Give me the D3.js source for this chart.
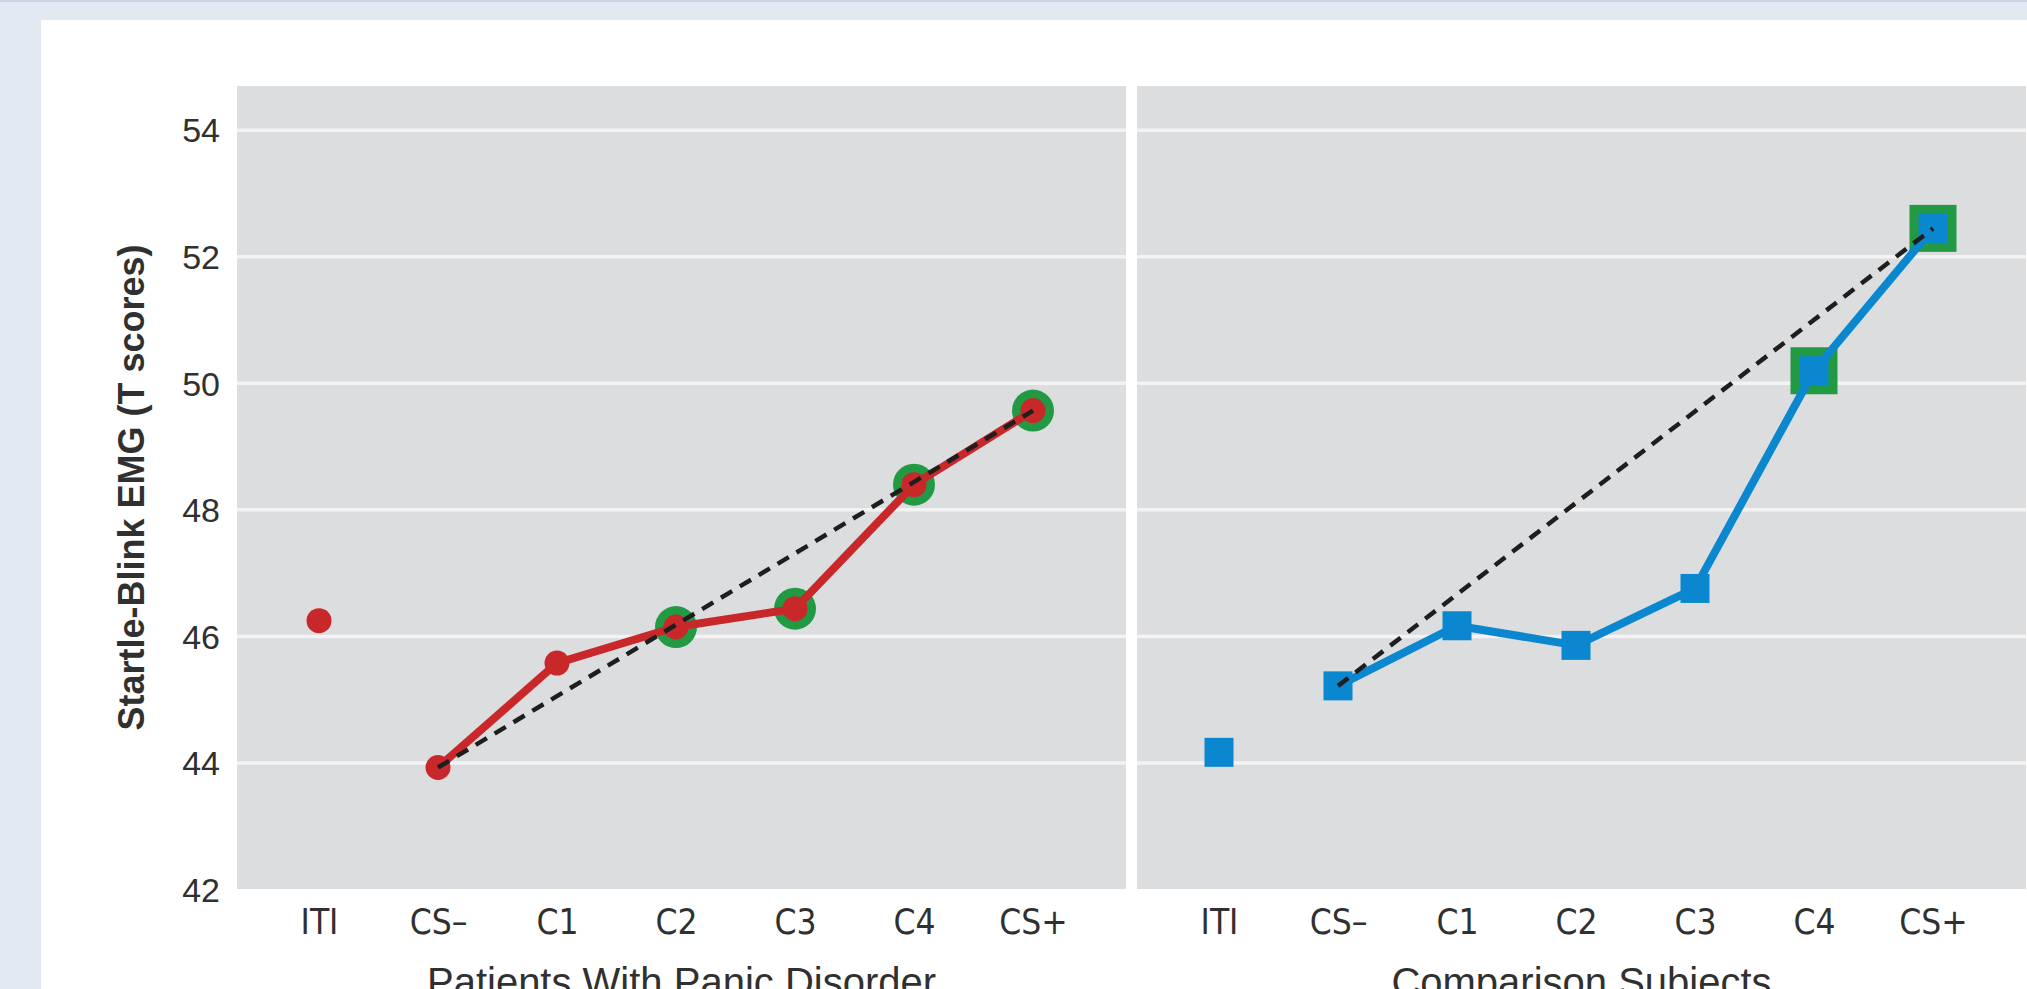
<!DOCTYPE html>
<html>
<head>
<meta charset="utf-8">
<script src="https://cdn.jsdelivr.net/npm/d3@7"></script>
<style>
  html, body { margin: 0; padding: 0; overflow: hidden; background: #e3e9f2; }
  svg { display: block; }
</style>
</head>
<body>
<svg id="chart" width="2027" height="989"></svg>
<script>
// ---- data ----
const categories = ["ITI", "CS\u2013", "C1", "C2", "C3", "C4", "CS+"];
const panicValues = [46.24, 43.92, 45.57, 46.14, 46.43, 48.39, 49.56];
const comparisonValues = [44.16, 45.21, 46.16, 45.85, 46.75, 50.19, 52.44];
const panicHighlighted = ["C2", "C3", "C4", "CS+"];
const comparisonHighlighted = ["C4", "CS+"];
const yTicks = [42, 44, 46, 48, 50, 52, 54];
const panelTitles = ["Patients With Panic Disorder", "Comparison Subjects"];
const yAxisTitle = "Startle-Blink EMG (T scores)";
const lineStart = "CS\u2013";
const lineEnd = "CS+";

// ---- layout ----
const W = 2027, H = 989;
const plotTop = 86, plotBottom = 889;
const panelLefts = [237, 1137];
const panelWidth = 889;
const textColor = "#303030";

const svg = d3.select("#chart");

// page background + card
svg.append("rect").attr("x", 0).attr("y", 0).attr("width", W).attr("height", H).attr("fill", "#e3e9f2");
svg.append("rect").attr("x", 0).attr("y", 0).attr("width", W).attr("height", 2).attr("fill", "#c9d5e6");
svg.append("rect").attr("x", 41).attr("y", 20).attr("width", W - 41).attr("height", H - 20).attr("fill", "#ffffff");

const y = d3.scaleLinear().domain([42, 54.69]).range([plotBottom, plotTop]);

const panels = [
  { values: panicValues, highlighted: panicHighlighted, kind: "circle", color: "#c9282b" },
  { values: comparisonValues, highlighted: comparisonHighlighted, kind: "square", color: "#0a87cf" }
];
const green = "#219a43";

panels.forEach((p, i) => {
  const left = panelLefts[i];
  const x = d3.scalePoint().domain(categories).range([left + 82, left + 796]);
  const g = svg.append("g");

  // panel background
  g.append("rect")
    .attr("x", left).attr("y", plotTop)
    .attr("width", panelWidth).attr("height", plotBottom - plotTop)
    .attr("fill", "#dcdddf");

  // gridlines
  const grid = g.append("g")
    .attr("transform", `translate(${left},0)`)
    .call(d3.axisLeft(y).tickValues(yTicks.filter(t => t > 42)).tickSize(-panelWidth).tickFormat(""));
  grid.select(".domain").remove();
  grid.selectAll("line").attr("stroke", "#f3f3f3").attr("stroke-width", 3.5);

  // x axis labels
  const xa = g.append("g")
    .attr("transform", `translate(0,${plotBottom})`)
    .call(d3.axisBottom(x).tickSize(0).tickPadding(20));
  xa.select(".domain").remove();
  xa.selectAll("text")
    .attr("fill", textColor)
    .style("font-family", "'Liberation Sans Narrow', 'DejaVu Sans Condensed', sans-serif")
    .style("font-size", "35px");

  // panel title
  g.append("text")
    .attr("x", left + panelWidth / 2)
    .attr("y", 996)
    .attr("text-anchor", "middle")
    .attr("fill", textColor)
    .style("font-family", "'Liberation Sans', Arial, sans-serif")
    .style("font-size", "40px")
    .text(panelTitles[i]);

  const data = categories.map((c, k) => ({ c, v: p.values[k] }));
  const lineData = data.filter(d => d.c !== "ITI");
  const hl = data.filter(d => p.highlighted.includes(d.c));

  // green highlight markers (behind)
  if (p.kind === "circle") {
    g.selectAll(".hl").data(hl).enter().append("circle")
      .attr("cx", d => x(d.c)).attr("cy", d => y(d.v)).attr("r", 21)
      .attr("fill", green);
  } else {
    const s = 47;
    g.selectAll(".hl").data(hl).enter().append("rect")
      .attr("x", d => x(d.c) - s / 2).attr("y", d => y(d.v) - s / 2)
      .attr("width", s).attr("height", s)
      .attr("fill", green);
  }

  // series line
  g.append("path")
    .datum(lineData)
    .attr("fill", "none")
    .attr("stroke", p.color)
    .attr("stroke-width", 8)
    .attr("stroke-linejoin", "round")
    .attr("d", d3.line().x(d => x(d.c)).y(d => y(d.v)));

  // markers
  if (p.kind === "circle") {
    g.selectAll(".pt").data(data).enter().append("circle")
      .attr("cx", d => x(d.c)).attr("cy", d => y(d.v)).attr("r", 12.5)
      .attr("fill", p.color);
  } else {
    const s = 29;
    g.selectAll(".pt").data(data).enter().append("rect")
      .attr("x", d => x(d.c) - s / 2).attr("y", d => y(d.v) - s / 2)
      .attr("width", s).attr("height", s)
      .attr("fill", p.color);
  }

  // dashed reference line CS- to CS+
  const ends = data.filter(d => d.c === lineStart || d.c === lineEnd);
  g.append("path")
    .datum(ends)
    .attr("fill", "none")
    .attr("stroke", "#1e1e1e")
    .attr("stroke-width", 4.5)
    .attr("stroke-dasharray", "13,9")
    .attr("d", d3.line().x(d => x(d.c)).y(d => y(d.v)));
});

// y axis tick labels
const ya = svg.append("g")
  .attr("transform", `translate(${panelLefts[0]},0)`)
  .call(d3.axisLeft(y).tickValues(yTicks).tickSize(0).tickPadding(17));
ya.select(".domain").remove();
ya.selectAll("text")
  .attr("fill", textColor)
  .attr("dy", "0.36em")
  .style("font-family", "'Liberation Sans', Arial, sans-serif")
  .style("font-size", "34px");

// y axis title
svg.append("text")
  .attr("transform", `translate(144,${(plotTop + plotBottom) / 2}) rotate(-90)`)
  .attr("text-anchor", "middle")
  .attr("fill", textColor)
  .style("font-family", "'Liberation Sans', Arial, sans-serif")
  .style("font-weight", "700")
  .style("font-size", "36px")
  .text(yAxisTitle);
</script>
</body>
</html>
